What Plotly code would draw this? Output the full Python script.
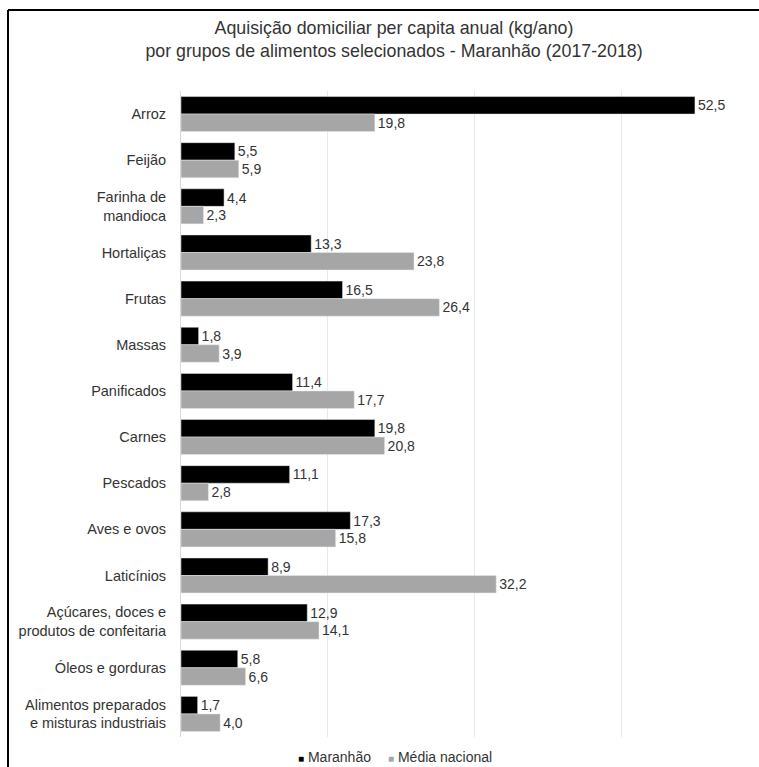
import plotly.graph_objects as go

categories = [
    "Arroz", "Feijão", "Farinha de<br>mandioca", "Hortaliças", "Frutas", "Massas",
    "Panificados", "Carnes", "Pescados", "Aves e ovos", "Laticínios",
    "Açúcares, doces e<br>produtos de confeitaria", "Óleos e gorduras",
    "Alimentos preparados<br>e misturas industriais",
]
maranhao = [52.5, 5.5, 4.4, 13.3, 16.5, 1.8, 11.4, 19.8, 11.1, 17.3, 8.9, 12.9, 5.8, 1.7]
media_nacional = [19.8, 5.9, 2.3, 23.8, 26.4, 3.9, 17.7, 20.8, 2.8, 15.8, 32.2, 14.1, 6.6, 4.0]
series_names = ["Maranhão", "Média nacional"]
series_colors = ["#000000", "#a6a6a6"]

FONT = "Liberation Sans, Arial, sans-serif"
TXT = "#333333"

L, R, T, B = 181, 20, 91, 30
W, H = 759, 767
pw = W - L - R
ph = H - T - B

fig = go.Figure()
for name, vals, col in zip(series_names, [maranhao, media_nacional], series_colors):
    fig.add_trace(go.Bar(
        y=categories, x=vals, orientation="h", name=name,
        marker=dict(color=col),
        texttemplate="%{x:.1f}", textposition="outside",
        textfont=dict(size=14, color=TXT, family=FONT),
        cliponaxis=False, showlegend=False, legendgroup=name,
    ))
# legend entries (small square glyph right before the label, like the original)
legend_ids = ["legend", "legend2"]
for name, col, lg in zip(series_names, series_colors, legend_ids):
    fig.add_trace(go.Scatter(
        x=[None], y=[None], mode="markers", legendgroup=name, legend=lg,
        marker=dict(size=1, color="rgba(0,0,0,0)"),
        name=f"<span style='color:{col};font-size:10px'>■</span> {name}",
        showlegend=True,
    ))

leg_common = dict(
    orientation="h", xanchor="left",
    y=(T + ph - 757) / ph, yanchor="middle",
    font=dict(size=14, color=TXT, family=FONT),
    itemwidth=30, bgcolor="rgba(0,0,0,0)",
)

fig.update_layout(
    width=W, height=H,
    margin=dict(l=L, r=R, t=T, b=B, autoexpand=False),
    paper_bgcolor="white", plot_bgcolor="white",
    separators=",.",
    barmode="group", bargap=0.24, bargroupgap=0,
    font=dict(family=FONT, size=13, color=TXT),
    title=dict(
        text="Aquisição domiciliar per capita anual (kg/ano)<br>por grupos de alimentos selecionados - Maranhão (2017-2018)",
        x=394 / W, xref="container", xanchor="center",
        y=1 - 34 / H, yref="container", yanchor="middle",
        font=dict(size=17.8, color=TXT, family=FONT),
    ),
    xaxis=dict(
        range=[0, 57], dtick=15, tick0=0, showticklabels=False,
        showgrid=True, gridcolor="#e8e8e8", gridwidth=1, zeroline=False,
        showline=False, fixedrange=True,
    ),
    yaxis=dict(
        autorange="reversed", showline=True, linecolor="#d9d9d9", linewidth=1,
        ticks="", ticklabelstandoff=11,
        tickfont=dict(size=14.5, color=TXT, family=FONT),
        showgrid=False,
    ),
    legend=dict(x=(258 - L) / pw, **leg_common),
    legend2=dict(x=(348 - L) / pw, **leg_common),
    showlegend=True,
)

# outer chart border: only the top and left edges fall inside the view
fig.add_shape(
    type="line", xref="paper", yref="paper",
    x0=(8 - L) / pw, x1=(W - L) / pw,
    y0=(T + ph - 10) / ph, y1=(T + ph - 10) / ph,
    line=dict(color="#000000", width=2), layer="below",
)
fig.add_shape(
    type="line", xref="paper", yref="paper",
    x0=(8 - L) / pw, x1=(8 - L) / pw,
    y0=(T + ph - H) / ph, y1=(T + ph - 10) / ph,
    line=dict(color="#000000", width=2), layer="below",
)

fig.write_html(
    "out.html",
    config={"displayModeBar": False},
    post_script="document.body.style.margin='0';",
)
